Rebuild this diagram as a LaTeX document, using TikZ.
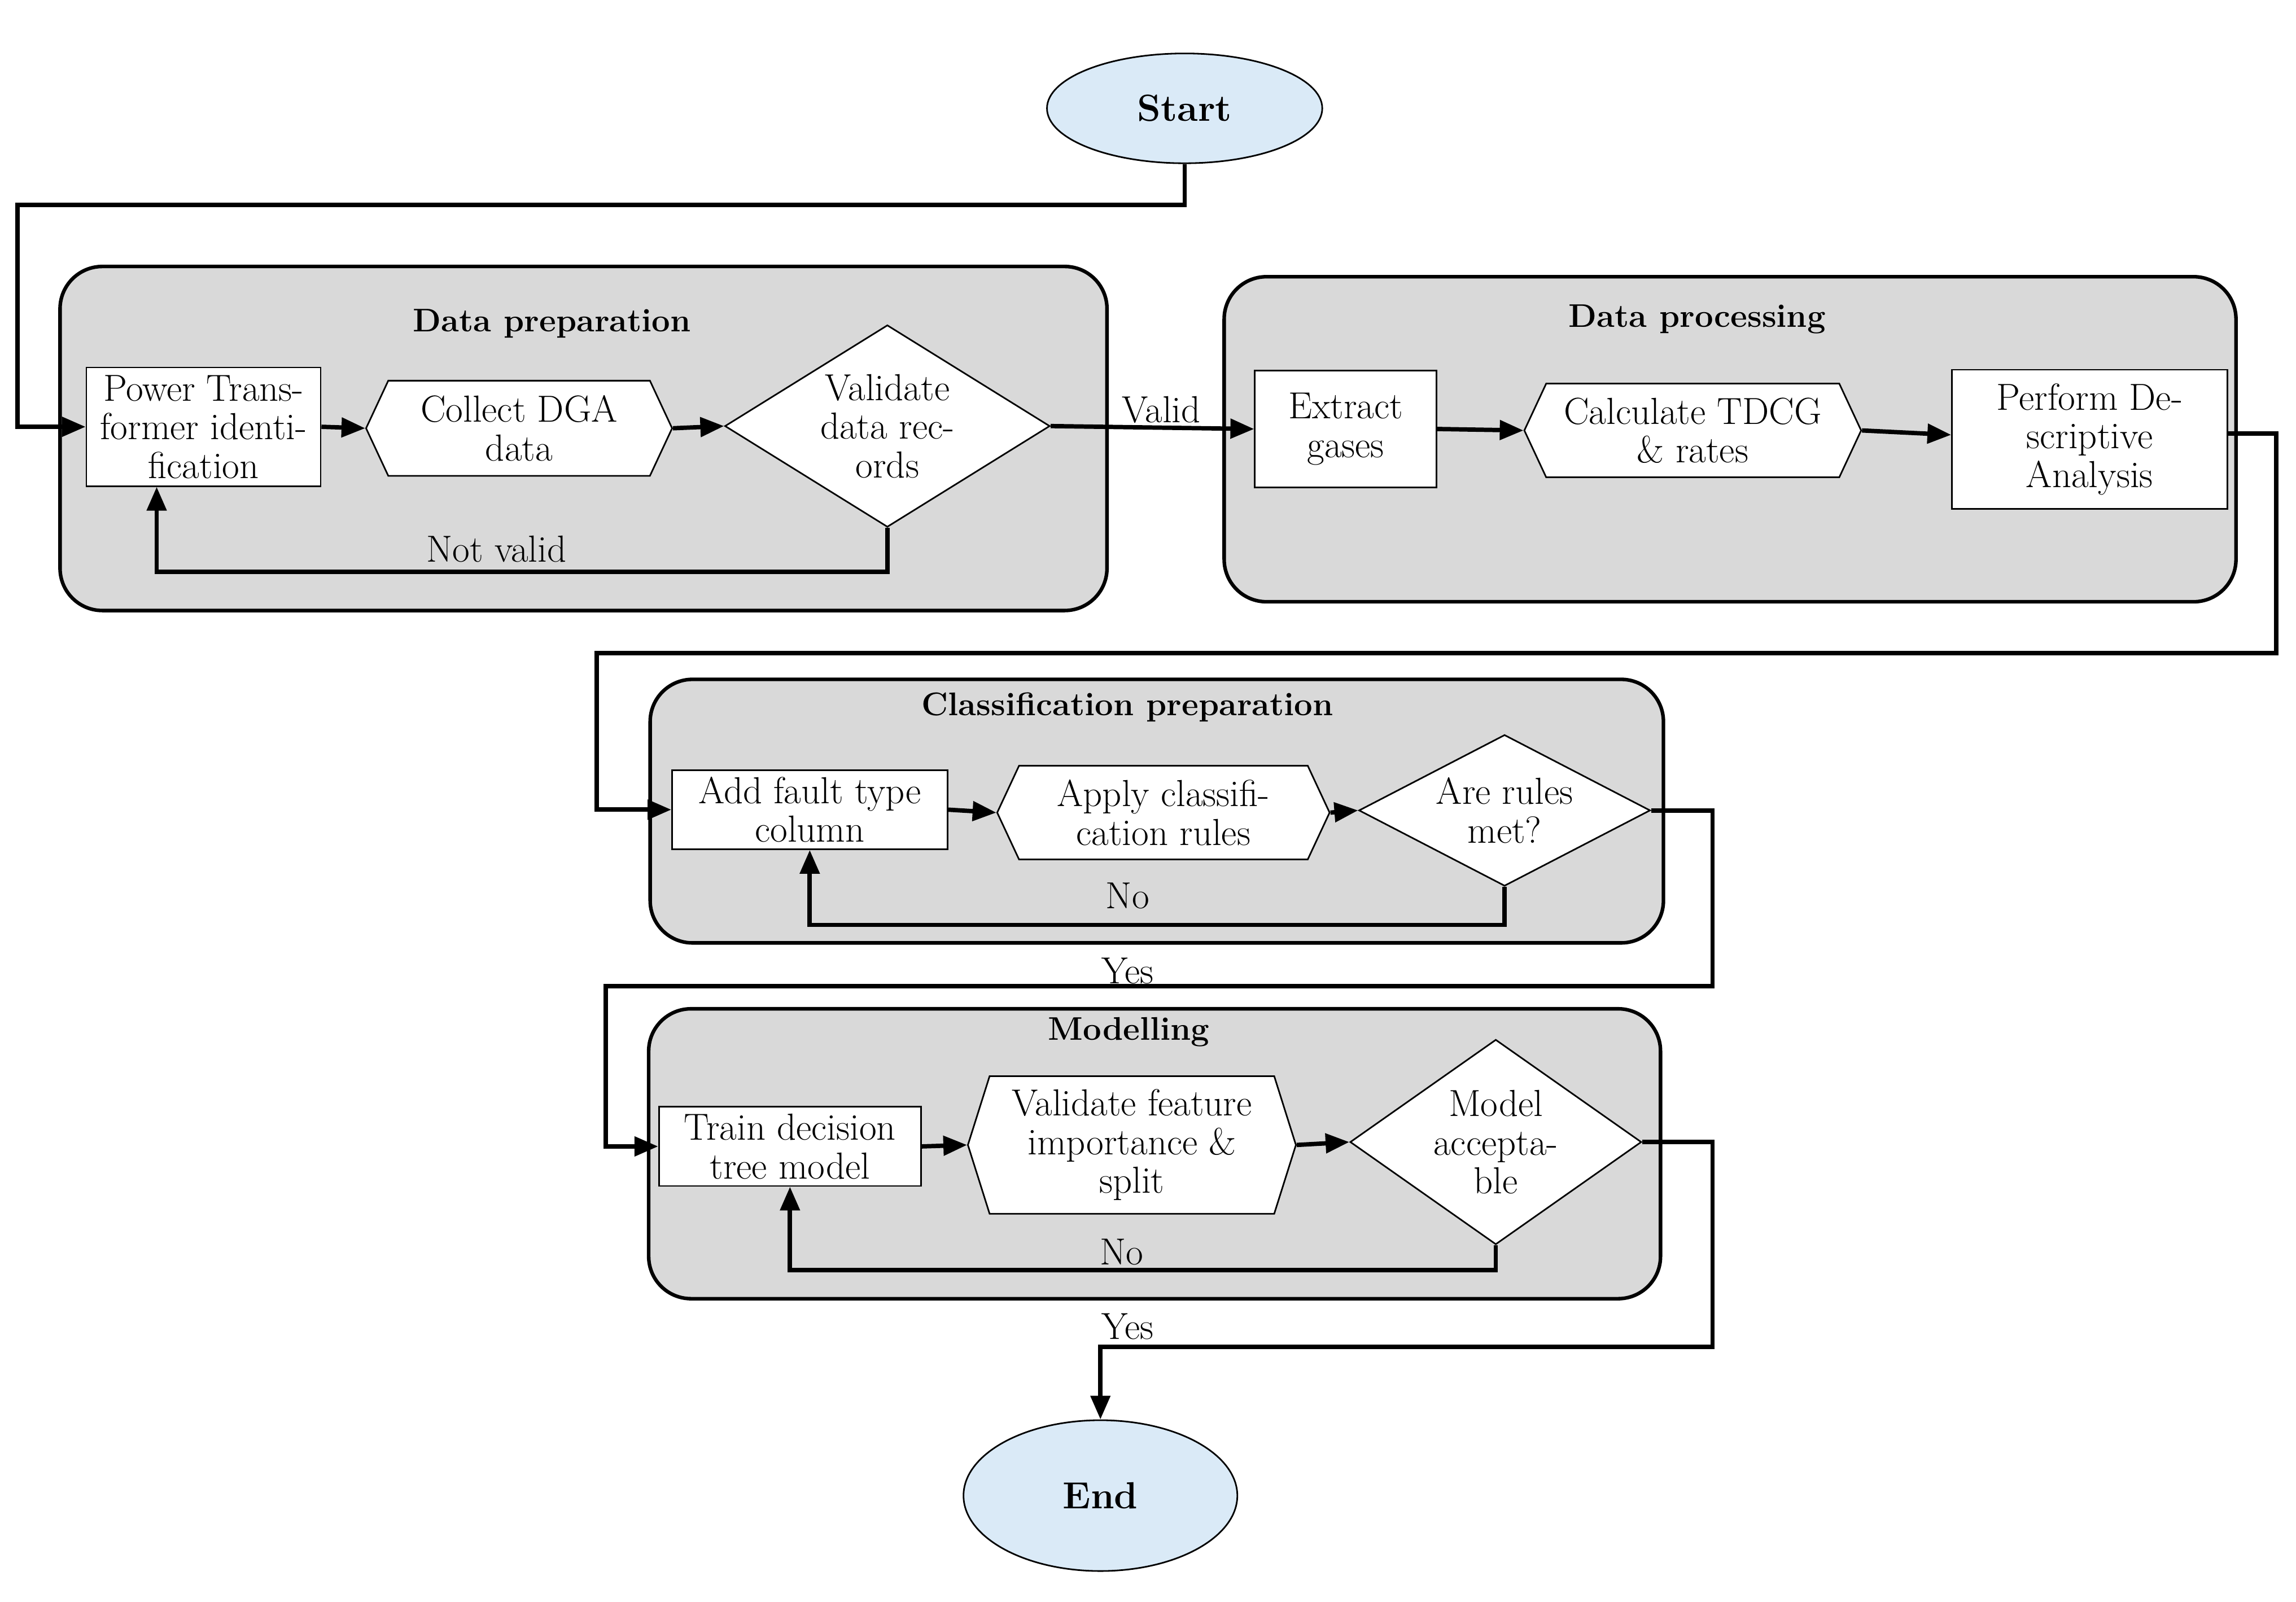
\documentclass[tikz,border=0pt]{standalone}
\usepackage{tikz}
\usetikzlibrary{arrows.meta,positioning,calc,shapes.geometric,shapes.symbols}
\definecolor{flowGray}{HTML}{D9D9D9}
\definecolor{flowSky}{HTML}{DAEAF7}
% one unit of the picture grid, also used for node sizes
\newcommand{\pxu}{0.2594mm}
\tikzset{
  % Text used in every box and on every edge label.
  flow/text/.style={font=\fontsize{19}{19.5}\selectfont, align=center, text=black},
  % Plain process step.
  flow/box/.style={flow/text, draw=black, fill=white, line width=0.8pt, inner sep=2pt},
  % Hexagonal step (preparation).
  flow/hex/.style={flow/box, signal, signal to=west and east, signal pointer angle=#1},
  flow/hex/.default=130,
  % Decision.
  flow/gate/.style={flow/box, diamond, aspect=1.6, inner sep=0pt},
  % Start and end.
  flow/term/.style={flow/box, ellipse, fill=flowSky, font=\fontsize{19}{22}\selectfont\bfseries},
  % Stage background.
  flow/group/.style={draw=black, fill=flowGray, line width=1.8pt, rounded corners=7.5mm},
  flow/title/.style={flow/text, font=\fontsize{16.5}{19}\selectfont\bfseries},
  % Connectors.
  flow/arrow/.style={-{Triangle[length=4.2mm,width=3.4mm]}, line width=2.2pt, draw=black},
  flow/label/.style={flow/text, inner sep=1pt},
}

\begin{document}
\begin{tikzpicture}[x=\pxu, y=-\pxu]
  \useasboundingbox (0,0) rectangle (1568,1094);

  % stages
  \node[flow/group, minimum width=715*\pxu, minimum height=235*\pxu] (grpPrep)  at (398.5,299.5) {};
  \node[flow/group, minimum width=691*\pxu, minimum height=222*\pxu] (grpProc)  at (1181.5,300) {};
  \node[flow/group, minimum width=692*\pxu, minimum height=180*\pxu] (grpClass) at (790,554) {};
  \node[flow/group, minimum width=691*\pxu, minimum height=198*\pxu] (grpModel) at (788.5,788) {};
  \node[flow/title] (tPrep)  at (377,221) {Data preparation};
  \node[flow/title] (tProc)  at (1159,218) {Data processing};
  \node[flow/title] (tClass) at (770,483) {Classification preparation};
  \node[flow/title] (tModel) at (771,705) {Modelling};

  \node[flow/term, minimum width=188*\pxu, minimum height=75*\pxu] (start) at (809,74) {Start};

  % data preparation
  \node[flow/box, minimum width=160*\pxu, minimum height=81*\pxu] (ptid) at (139,291.5)
       {Power Trans-\\former identi-\\fication};
  \node[flow/hex, minimum width=209*\pxu, minimum height=65*\pxu] (dga) at (354.5,292.5)
       {Collect DGA\\data};
  \node[flow/gate, minimum width=222*\pxu, minimum height=138*\pxu] (valid) at (606,291)
       {Validate\\data rec-\\ords};

  % data processing
  \node[flow/box, minimum width=124*\pxu, minimum height=80*\pxu] (extr) at (919,293)
       {Extract\\gases};
  \node[flow/hex, minimum width=230*\pxu, minimum height=64*\pxu] (tdcg) at (1156,294)
       {Calculate TDCG\\\& rates};
  \node[flow/box, minimum width=188*\pxu, minimum height=95*\pxu] (perf) at (1427,300)
       {Perform De-\\scriptive\\Analysis};

  % classification preparation
  \node[flow/box, minimum width=188*\pxu, minimum height=54*\pxu] (addf) at (553,553)
       {Add fault type\\column};
  \node[flow/hex, minimum width=227*\pxu, minimum height=64*\pxu] (apply) at (794.5,555)
       {Apply classifi-\\cation rules};
  \node[flow/gate, minimum width=199*\pxu, minimum height=103*\pxu] (rules) at (1027.5,553.5)
       {Are rules\\met?};

  % modelling
  \node[flow/box, minimum width=179*\pxu, minimum height=54*\pxu] (train) at (539.5,783)
       {Train decision\\tree model};
  \node[flow/hex=145, minimum width=224*\pxu, minimum height=94*\pxu] (vfeat) at (773,782)
       {Validate feature\\importance \&\\split};
  \node[flow/gate, minimum width=199*\pxu, minimum height=140*\pxu] (macc) at (1021.5,780)
       {Model\\accepta-\\ble};

  \node[flow/term, minimum width=187*\pxu, minimum height=103*\pxu] (end) at (751.5,1021.5) {End};

  % main path
  \draw[flow/arrow] (start.south) -- ++(0,28) -- ++(-797,0) |- (ptid.west);
  \draw[flow/arrow] (ptid.east) -- (dga.west);
  \draw[flow/arrow] (dga.east) -- (valid.west);
  \draw[flow/arrow] (valid.east) -- (extr.west);
  \draw[flow/arrow] (extr.east) -- (tdcg.west);
  \draw[flow/arrow] (tdcg.east) -- ($(perf.west)+(0,-3)$);
  \draw[flow/arrow] ($(perf.east)+(0,-4)$) -- ++(33,0) -- ++(0,150) -- ++(-1147,0) |- (addf.west);
  \draw[flow/arrow] (addf.east) -- (apply.west);
  \draw[flow/arrow] (apply.east) -- (rules.west);
  \draw[flow/arrow] (rules.east) -- ++(42,0) -- ++(0,120) -- ++(-756,0) |- (train.west);
  \draw[flow/arrow] (train.east) -- (vfeat.west);
  \draw[flow/arrow] (vfeat.east) -- (macc.west);
  \draw[flow/arrow] (macc.east) -- ++(48,0) -- ++(0,140) -| (end.north);

  % feedback
  \draw[flow/arrow] (valid.south) -- ++(0,30) -| ($(ptid.south)+(-32,0)$);
  \draw[flow/arrow] (rules.south) -- ++(0,26) -| (addf.south);
  \draw[flow/arrow] (macc.south) -- ++(0,17) -| (train.south);

  % edge labels
  \node[flow/label] (lValid)  at (793,280) {Valid};
  \node[flow/label] (lNotVal) at (339,375) {Not valid};
  \node[flow/label] (lNoC)    at (770,612) {No};
  \node[flow/label] (lYesC)   at (770,663) {Yes};
  \node[flow/label] (lNoM)    at (766,855) {No};
  \node[flow/label] (lYesM)   at (770,906) {Yes};
\end{tikzpicture}
\end{document}
